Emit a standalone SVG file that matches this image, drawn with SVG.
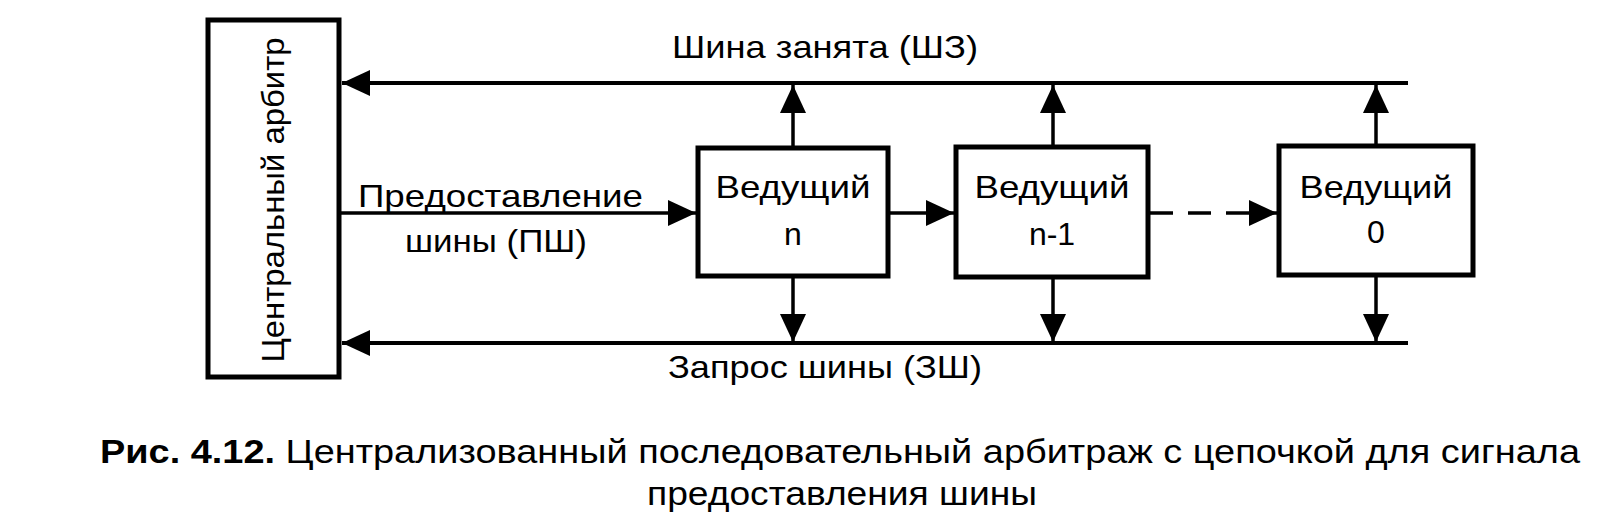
<svg xmlns="http://www.w3.org/2000/svg" width="1616" height="520" viewBox="0 0 1616 520">
  <style>
    .box { fill: #ffffff; stroke: #000000; stroke-width: 5; }
    .bus { stroke: #000000; stroke-width: 4; fill: none; }
    .wire { stroke: #000000; stroke-width: 3.5; fill: none; }
    .t { font-family: "Liberation Sans", Arial, Helvetica, sans-serif; font-size: 32px; fill: #000000; }
    .cap { font-family: "Liberation Sans", Arial, Helvetica, sans-serif; font-size: 33px; fill: #000000; }
    .b { font-weight: bold; }
  </style>
  <defs>
    <marker id="ah" markerUnits="userSpaceOnUse" markerWidth="28" markerHeight="26" refX="28" refY="13" orient="auto" viewBox="0 0 28 26">
      <path d="M0,0 L28,13 L0,26 Z" fill="#000000"/>
    </marker>
  </defs>
  <rect width="1616" height="520" fill="#ffffff"/>

  <g id="connectors">
    <!-- Bus busy (top) -->
    <line class="bus" x1="1408" y1="83" x2="342" y2="83" marker-end="url(#ah)"/>
    <!-- Bus request (bottom) -->
    <line class="bus" x1="1408" y1="343" x2="342" y2="343" marker-end="url(#ah)"/>
    <!-- Grant chain -->
    <line class="wire" x1="340" y1="213" x2="696" y2="213" marker-end="url(#ah)"/>
    <line class="wire" x1="888" y1="213" x2="954" y2="213" marker-end="url(#ah)"/>
    <line class="wire" x1="1150" y1="213" x2="1277" y2="213" stroke-dasharray="23 15" marker-end="url(#ah)"/>
    <!-- Up to busy bus -->
    <line class="wire" x1="793" y1="146" x2="793" y2="85" marker-end="url(#ah)"/>
    <line class="wire" x1="1053" y1="146" x2="1053" y2="85" marker-end="url(#ah)"/>
    <line class="wire" x1="1376" y1="146" x2="1376" y2="85" marker-end="url(#ah)"/>
    <!-- Down to request bus -->
    <line class="wire" x1="793" y1="276" x2="793" y2="342" marker-end="url(#ah)"/>
    <line class="wire" x1="1053" y1="276" x2="1053" y2="342" marker-end="url(#ah)"/>
    <line class="wire" x1="1376" y1="276" x2="1376" y2="342" marker-end="url(#ah)"/>
  </g>

  <g id="labels">
    <text class="t" x="672" y="58" textLength="306" lengthAdjust="spacingAndGlyphs">Шина занята (ШЗ)</text>
    <text class="t" x="358" y="207" textLength="285" lengthAdjust="spacingAndGlyphs">Предоставление</text>
    <text class="t" x="405" y="252" textLength="182" lengthAdjust="spacingAndGlyphs">шины (ПШ)</text>
    <text class="t" x="668" y="378" textLength="314" lengthAdjust="spacingAndGlyphs">Запрос шины (ЗШ)</text>
  </g>

  <g id="arbiter">
    <rect class="box" x="208" y="20" width="131" height="357"/>
    <text class="t" transform="translate(284,200) rotate(-90)" x="0" y="0" text-anchor="middle" textLength="325" lengthAdjust="spacingAndGlyphs">Центральный арбитр</text>
  </g>

  <g id="master-n">
    <rect class="box" x="698" y="148" width="190" height="128"/>
    <text class="t" x="793" y="198" text-anchor="middle" textLength="155" lengthAdjust="spacingAndGlyphs">Ведущий</text>
    <text class="t" x="793" y="245" text-anchor="middle">n</text>
  </g>

  <g id="master-n-1">
    <rect class="box" x="956" y="147" width="192" height="130"/>
    <text class="t" x="1052" y="198" text-anchor="middle" textLength="155" lengthAdjust="spacingAndGlyphs">Ведущий</text>
    <text class="t" x="1052" y="245" text-anchor="middle">n-1</text>
  </g>

  <g id="master-0">
    <rect class="box" x="1279" y="146" width="194" height="129"/>
    <text class="t" x="1376" y="198" text-anchor="middle" textLength="153" lengthAdjust="spacingAndGlyphs">Ведущий</text>
    <text class="t" x="1376" y="243" text-anchor="middle">0</text>
  </g>

  <g id="caption">
    <text class="cap" x="100" y="463" textLength="1480" lengthAdjust="spacingAndGlyphs"><tspan class="b">Рис. 4.12.</tspan> Централизованный последовательный арбитраж с цепочкой для сигнала</text>
    <text class="cap" x="842" y="505" text-anchor="middle" textLength="390" lengthAdjust="spacingAndGlyphs">предоставления шины</text>
  </g>
</svg>
